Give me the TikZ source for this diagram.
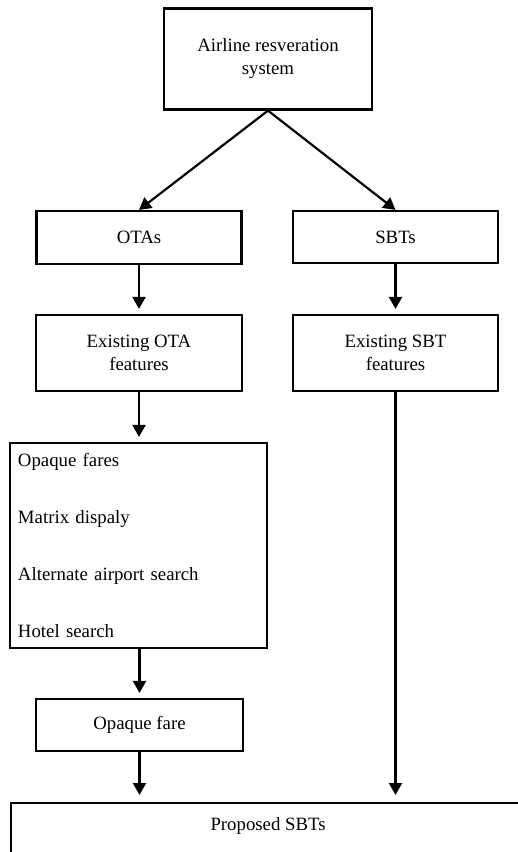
\documentclass[tikz,border=0pt]{standalone}
\usepackage{fontspec}
\setmainfont{Liberation Serif}
\usetikzlibrary{arrows.meta}

\begin{document}
\begin{tikzpicture}[x=0.5pt,y=-0.5pt,
    box/.style={draw,line width=1.1pt,inner sep=0pt,align=center,font=\fontsize{9.4}{11.5}\selectfont},
    arr/.style={line width=1.1pt,-{Triangle[length=6pt,width=6.5pt]}}]
      \useasboundingbox (0,0) rectangle (518,852);
      \clip (0,0) rectangle (518,852);
      \node[box,minimum width=104pt,minimum height=50.5pt] (ars) at (268,59) {Airline resveration\\system};
      \node[box,minimum width=102.5pt,minimum height=26.5pt] (ota) at (139,237.5) {OTAs};
      \node[box,minimum width=102.5pt,minimum height=26pt] (sbt) at (395.5,237) {SBTs};
      \node[box,minimum width=103pt,minimum height=38pt] (eota) at (139,353) {Existing OTA\\features};
      \node[box,minimum width=102.5pt,minimum height=38pt] (esbt) at (395.5,353) {Existing SBT\\features};
      \node[box,text width=120.5pt,inner xsep=4pt,minimum height=102.5pt,align=left,font=\fontsize{9.4}{28.5}\selectfont] (feat) at (138.5,545.5) {Opaque fares\\Matrix dispaly\\Alternate airport search\\Hotel search};
      \node[box,minimum width=103.5pt,minimum height=26pt] (opq) at (139.5,725) {Opaque fare};
      \node[box,anchor=north west,minimum width=257pt,text height=7pt,text depth=40pt,inner ysep=6.5pt] (prop) at (10,802) {Proposed SBTs};
      \draw[arr] (ars.south) -- (ota.north);
      \draw[arr] (ars.south) -- (sbt.north);
      \draw[arr,shorten >=2.5pt] (ota.south) -- (eota.north);
      \draw[arr,shorten >=2.5pt] (sbt.south) -- (esbt.north);
      \draw[arr,shorten >=2.5pt] (eota.south) -- (eota.south |- feat.north);
      \draw[arr,shorten >=2.5pt] (feat.south -| opq.north) -- (opq.north);
      \draw[arr,shorten >=3.5pt] (opq.south) -- (opq.south |- prop.north);
      \draw[arr,shorten >=3.5pt] (esbt.south) -- (esbt.south |- prop.north);
    \end{tikzpicture}
\end{document}
